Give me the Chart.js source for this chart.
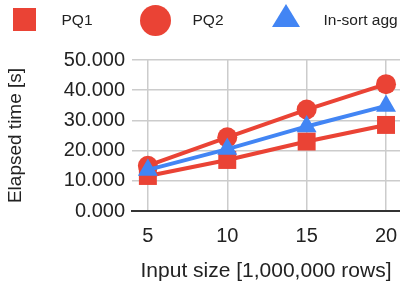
<!DOCTYPE html>
<html>
<head>
<meta charset="utf-8">
<script src="https://cdn.jsdelivr.net/npm/chart.js@4/dist/chart.umd.min.js"></script>
<style>
  html, body { margin: 0; padding: 0; background: #ffffff; }
  #wrap { position: relative; width: 400px; height: 287px; overflow: hidden; }
  #chart { position: absolute; left: 0; top: 0; }
  #legend { position: absolute; left: 0; top: 0; height: 39px; width: 420px;
            display: flex; align-items: center; white-space: nowrap;
            font-family: 'Liberation Sans', Arial, sans-serif; font-size: 15.5px; color: #222; }
  .item { display: flex; align-items: center; margin-left: 38px; }
  .item:first-child { margin-left: -0.5px; }
  .slot { width: 49px; height: 39px; display: flex; align-items: center; justify-content: center; }
  .txt { margin-left: 13px; }
</style>
</head>
<body>
<div id="wrap">
  <canvas id="chart" width="400" height="287"></canvas>
  <div id="legend"></div>
</div>
<script>
// ---- data ----
const xValues = [5, 10, 15, 20];
const pq1 = [11.6, 16.9, 23.0, 28.5];
const pq2 = [15.0, 24.4, 33.6, 42.0];
const inSort = [13.6, 20.5, 28.0, 34.8];
const seriesNames = ['PQ1', 'PQ2', 'In-sort agg'];
const xTicks = [5, 10, 15, 20];
const yTicks = [0, 10, 20, 30, 40, 50];
const xTitle = 'Input size [1,000,000 rows]';
const yTitle = 'Elapsed time [s]';

const RED = '#ea4335';
const BLUE = '#4285f4';
const FONT = "'Liberation Sans', Arial, sans-serif";

function pts(ys) { return xValues.map((x, i) => ({ x: x, y: ys[i] })); }

const datasets = [
  { label: seriesNames[0], data: pts(pq1), borderColor: RED, backgroundColor: RED,
    pointStyle: 'rect', pointRadius: 12.7, order: 2, legendShape: 'square' },
  { label: seriesNames[1], data: pts(pq2), borderColor: RED, backgroundColor: RED,
    pointStyle: 'circle', pointRadius: 10, order: 1, legendShape: 'circle' },
  { label: seriesNames[2], data: pts(inSort), borderColor: BLUE, backgroundColor: BLUE,
    pointStyle: 'triangle', pointRadius: 11.5, order: 0, legendShape: 'triangle' }
].map(d => Object.assign({
  borderWidth: 4, pointBorderWidth: 0, pointBackgroundColor: d.backgroundColor,
  tension: 0, fill: false, clip: false
}, d));

const chart = new Chart(document.getElementById('chart'), {
  type: 'line',
  data: { datasets: datasets },
  options: {
    responsive: false,
    animation: false,
    events: [],
    layout: { autoPadding: false, padding: { top: 60, right: 0, left: 0, bottom: 0 } },
    plugins: { legend: { display: false }, tooltip: { enabled: false } },
    scales: {
      x: {
        type: 'linear', min: 4, max: 20.88,
        afterBuildTicks: (s) => { s.ticks = xTicks.map(v => ({ value: v })); },
        afterFit: (s) => { s.height = 76; s.paddingRight = 0; s.paddingLeft = 0; },
        ticks: { autoSkip: false, padding: 13, color: '#222', font: { family: FONT, size: 20 },
                 callback: (v) => String(v) },
        grid: { color: '#cccccc', lineWidth: 1.5, drawTicks: false },
        border: { display: true, color: '#333333', width: 2 },
        title: { display: true, text: xTitle, color: '#222', font: { family: FONT, size: 21 },
                 padding: { top: 0, bottom: 3 } }
      },
      y: {
        type: 'linear', min: 0, max: 50,
        afterBuildTicks: (s) => { s.ticks = yTicks.map(v => ({ value: v })); },
        afterFit: (s) => { s.width = 132; },
        ticks: { padding: 7, color: '#222', font: { family: FONT, size: 20 },
                 callback: (v) => Number(v).toFixed(3) },
        grid: { color: '#cccccc', lineWidth: 1.5, drawTicks: false },
        border: { display: false },
        title: { display: true, text: yTitle, color: '#222', font: { family: FONT, size: 19 },
                 padding: { top: 4, bottom: 0 } }
      }
    }
  }
});

// HTML legend built from the chart's datasets
const legendEl = document.getElementById('legend');
chart.data.datasets.forEach(ds => {
  const item = document.createElement('div');
  item.className = 'item';
  const slot = document.createElement('div');
  slot.className = 'slot';
  const mk = document.createElement('div');
  if (ds.legendShape === 'square') {
    mk.style.cssText = 'width:23px;height:23px;background:' + ds.backgroundColor;
  } else if (ds.legendShape === 'circle') {
    mk.style.cssText = 'width:31px;height:31px;border-radius:50%;margin-top:1px;background:' + ds.backgroundColor;
  } else {
    mk.style.cssText = 'width:0;height:0;border-left:14px solid transparent;border-right:14px solid transparent;border-bottom:23.5px solid ' + ds.backgroundColor + ';position:relative;top:-4.5px';
  }
  slot.appendChild(mk);
  const txt = document.createElement('span');
  txt.className = 'txt';
  txt.textContent = ds.label;
  item.appendChild(slot);
  item.appendChild(txt);
  legendEl.appendChild(item);
});
</script>
</body>
</html>
